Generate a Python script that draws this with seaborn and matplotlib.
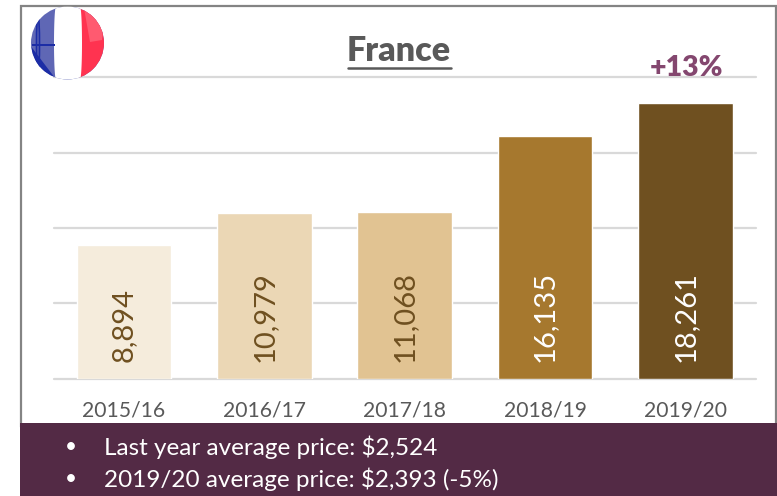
import matplotlib
matplotlib.use('Agg')
import matplotlib.pyplot as plt
from matplotlib.patches import Circle, Rectangle, Ellipse, Polygon
import numpy as np
import pandas as pd
import seaborn as sns

seasons = ['2015/16', '2016/17', '2017/18', '2018/19', '2019/20']
values = [8894, 10979, 11068, 16135, 18261]
labels = ['8,894', '10,979', '11,068', '16,135', '18,261']
bar_colors = ['#F5ECDC', '#EBD7B5', '#E1C392', '#A6782E', '#6F5020']
label_colors = ['#6F5020', '#6F5020', '#6F5020', '#FFFFFF', '#FFFFFF']
grid_values = [0, 5000, 10000, 15000, 20000]
notes = ['Last year average price: $2,524', '2019/20 average price: $2,393 (-5%)']

W, H = 777, 496

sns.set_theme(style='white')
plt.rcParams['font.family'] = ['Lato', 'DejaVu Sans']

fig = plt.figure(figsize=(W / 100, H / 100), dpi=100)

# pixel overlay for frame
bg = fig.add_axes([0, 0, 1, 1], zorder=0)
bg.set_xlim(0, W)
bg.set_ylim(H, 0)
bg.axis('off')
bg.add_patch(Rectangle((21, 6), 755, 420, fill=False, ec='#848484', lw=1.6))

ax = fig.add_axes([53.7 / W, 1 - 378.6 / H, (755 - 53) / W, (378.6 - 77.3) / H], zorder=1)
ax.patch.set_alpha(0)
df = pd.DataFrame({'season': seasons, 'value': values})
sns.barplot(data=df, x='season', y='value', hue='season', palette=bar_colors,
            legend=False, width=0.675, saturation=1, ax=ax, zorder=3)
ax.set_ylim(0, 20000)
ax.set_xlim(-0.5, 4.5)
ax.set_yticks(grid_values)
ax.set_yticklabels([])
ax.grid(axis='y', color='#D9D9D9', lw=1.6, clip_on=False)
ax.set_axisbelow(True)
ax.set_xlabel('')
ax.set_ylabel('')
sns.despine(ax=ax, left=True, bottom=True)
ax.tick_params(axis='x', length=0, pad=16, labelsize=15.2, labelcolor='#595959')
ax.tick_params(axis='y', length=0)

for i, lab in enumerate(labels):
    ax.annotate(lab, (i, 0), xytext=(0, 12), textcoords='offset points', rotation=90,
                ha='center', va='bottom', fontsize=21, color=label_colors[i])

ax.annotate('+13%', (4, values[4]), xytext=(1, 16), textcoords='offset points',
            ha='center', va='bottom', fontsize=20.5, fontweight='heavy', color='#84476F', zorder=5)

# title with underline
top = fig.add_axes([0, 0, 1, 1], zorder=2)
top.set_xlim(0, W)
top.set_ylim(H, 0)
top.axis('off')
top.text(399, 51, 'France', ha='center', va='center', fontsize=24.5, fontweight='heavy', color='#595959')
top.plot([348, 451], [68, 68], color='#595959', lw=1.8)

# bottom band
top.add_patch(Rectangle((20, 423), 757, 73, color='#532A45', lw=0))
for y, note in zip([447, 479], notes):
    top.text(71, y, '\u2022', ha='center', va='center', fontsize=15, color='white')
    top.text(104, y, note, ha='left', va='center', fontsize=17.5, color='white')

# flag
cx, cy, r = 67.5, 43, 36.5
clip = Circle((cx, cy), r, transform=top.transData)
yy = np.linspace(cy - r, cy + r, 60)
bulge = np.sqrt(np.clip(1 - ((yy - cy) / r) ** 2, 0, 1))
rim = np.linspace(0.1, 1.2, 30)
parts = [
    Rectangle((cx - r, cy - r), 2 * r, 2 * r, color='#5F67B5', lw=0),
    Polygon(np.c_[cx - r * np.cos(rim), cy + r * np.sin(rim)], color='#1C2DA6', lw=0),
    Polygon(np.r_[np.c_[79 + 2 * bulge, yy], np.c_[cx + r + 2 + 0 * yy, yy][::-1]], color='#FF3350', lw=0),
    Polygon([[84, 8], [104, 20], [102, 40], [90, 42]], color='#FF5A70', lw=0),
    Polygon(np.r_[np.c_[56 - 2 * bulge, yy], np.c_[80 + 2 * bulge, yy][::-1]], color='#FFFFFF', lw=0),
    Rectangle((32, 44), 23, 1.6, color='#1C2DA6', lw=0),
    Ellipse((38, 44), 3, 56, fill=False, ec='#1C2DA6', lw=1.2),
]
for p in parts:
    top.add_patch(p)
    p.set_clip_path(clip)

fig.savefig('out.png', dpi=100)
